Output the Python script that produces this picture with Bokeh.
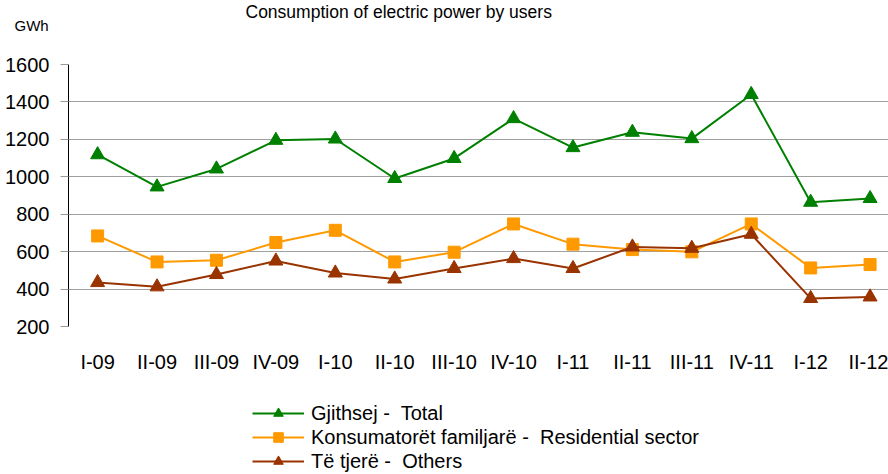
from bokeh.plotting import figure
from bokeh.layouts import column
from bokeh.models import Range1d, FixedTicker, Legend, LegendItem, ColumnDataSource, Title
from bokeh.embed import file_html
from bokeh.resources import INLINE

quarters = ["I-09", "II-09", "III-09", "IV-09", "I-10", "II-10", "III-10", "IV-10",
            "I-11", "II-11", "III-11", "IV-11", "I-12", "II-12"]
total = [1118, 946, 1042, 1195, 1202, 991, 1098, 1311, 1156, 1238, 1204, 1440, 864, 884]
residential = [684, 545, 554, 649, 714, 545, 597, 748, 640, 611, 599, 748, 513, 531]
others = [435, 412, 478, 550, 486, 454, 510, 563, 510, 625, 618, 693, 350, 358]
y_ticks = [200, 400, 600, 800, 1000, 1200, 1400, 1600]
series_labels = ["Gjithsej -  Total",
                 "Konsumatorët familjarë -  Residential sector",
                 "Të tjerë -  Others"]

FONT = "Liberation Sans, Arial, sans-serif"

LEFT, TOP, BOTTOM = 68, 64, 41
FW, FH = 820, 262
LEG_H = 474 - (TOP + FH + BOTTOM)

GREEN = "#008000"
ORANGE = "#FF9900"
BROWN = "#993300"
colors = [GREEN, ORANGE, BROWN]
markers = ["triangle", "square", "triangle"]
msizes = [14, 12, 14]
fields = ["total", "res", "oth"]

idx = list(range(len(quarters)))
src = ColumnDataSource(dict(x=idx, total=total, res=residential, oth=others))

p = figure(frame_width=FW, frame_height=FH, output_backend="svg", toolbar_location=None,
           x_range=Range1d(-0.49, 13.31), y_range=Range1d(200, 1600),
           min_border_left=LEFT, min_border_right=0, min_border_top=TOP, min_border_bottom=BOTTOM)
p.outline_line_color = None
p.background_fill_color = "white"
p.border_fill_color = "white"

# axes
p.yaxis.ticker = FixedTicker(ticks=y_ticks)
p.yaxis.axis_line_color = "black"
p.yaxis.major_tick_out = 8
p.yaxis.major_tick_in = 0
p.yaxis.major_tick_line_color = "#9a9a9a"
p.yaxis.minor_tick_line_color = None
p.yaxis.major_label_standoff = 11
p.yaxis.major_label_text_font = FONT
p.yaxis.major_label_text_font_size = "20px"
p.yaxis.major_label_text_color = "black"

p.xaxis.ticker = FixedTicker(ticks=idx)
p.xaxis.major_label_overrides = {i: q for i, q in zip(idx, quarters)}
p.xaxis.axis_line_color = None
p.xaxis.major_tick_line_color = None
p.xaxis.minor_tick_line_color = None
p.xaxis.major_label_standoff = 18
p.xaxis.major_label_text_font = FONT
p.xaxis.major_label_text_font_size = "20px"
p.xaxis.major_label_text_color = "black"

p.xgrid.grid_line_color = None
p.ygrid.ticker = FixedTicker(ticks=y_ticks)
p.ygrid.grid_line_color = "#a0a0a0"
p.ygrid.grid_line_width = 1

for f, col, mk, sz in zip(fields, colors, markers, msizes):
    p.line("x", f, source=src, line_color=col, line_width=2)
    p.scatter("x", f, source=src, marker=mk, size=sz, fill_color=col, line_color=col)

# stacked 'above' panels: first added sits closest to the frame
spacer = Title(text=" ", standoff=8, text_font=FONT, text_font_size="20px")
p.add_layout(spacer, "above")
unit = Title(text="GWh", align="left", offset=14 - LEFT, standoff=-6, vertical_align="top",
             text_font=FONT, text_font_size="15px", text_font_style="normal",
             text_color="black")
p.add_layout(unit, "above")
title = Title(text="Consumption of electric power by users", align="left", offset=245 - LEFT,
              standoff=-4, text_font=FONT, text_font_size="17.5px", text_font_style="normal",
              text_color="black")
p.add_layout(title, "above")

# legend strip below the chart (its series lie outside its view; only the legend shows)
q = figure(width=888, height=LEG_H, output_backend="svg", toolbar_location=None,
           x_range=Range1d(0, 1), y_range=Range1d(0, 1),
           min_border_left=0, min_border_right=0, min_border_top=0, min_border_bottom=0)
q.axis.visible = False
q.grid.visible = False
q.outline_line_color = None
items = []
for lab, f, col, mk, sz in zip(series_labels, fields, colors, markers, msizes):
    lr = q.line("x", f, source=src, line_color=col, line_width=2)
    mr = q.scatter("x", f, source=src, marker=mk, size=sz, fill_color=col, line_color=col)
    items.append(LegendItem(label=lab, renderers=[lr, mr]))

legend = Legend(items=items, location=(184, 9), orientation="vertical")
legend.background_fill_alpha = 0
legend.border_line_color = None
legend.label_text_font = FONT
legend.label_text_font_size = "20px"
legend.label_text_color = "black"
legend.glyph_width = 52
legend.glyph_height = 24
legend.label_height = 24
legend.spacing = 0
legend.label_standoff = 7
legend.padding = 0
legend.margin = 0
q.add_layout(legend, "center")

layout = column(p, q, spacing=0)
open("out.html", "w").write(file_html(layout, INLINE))
